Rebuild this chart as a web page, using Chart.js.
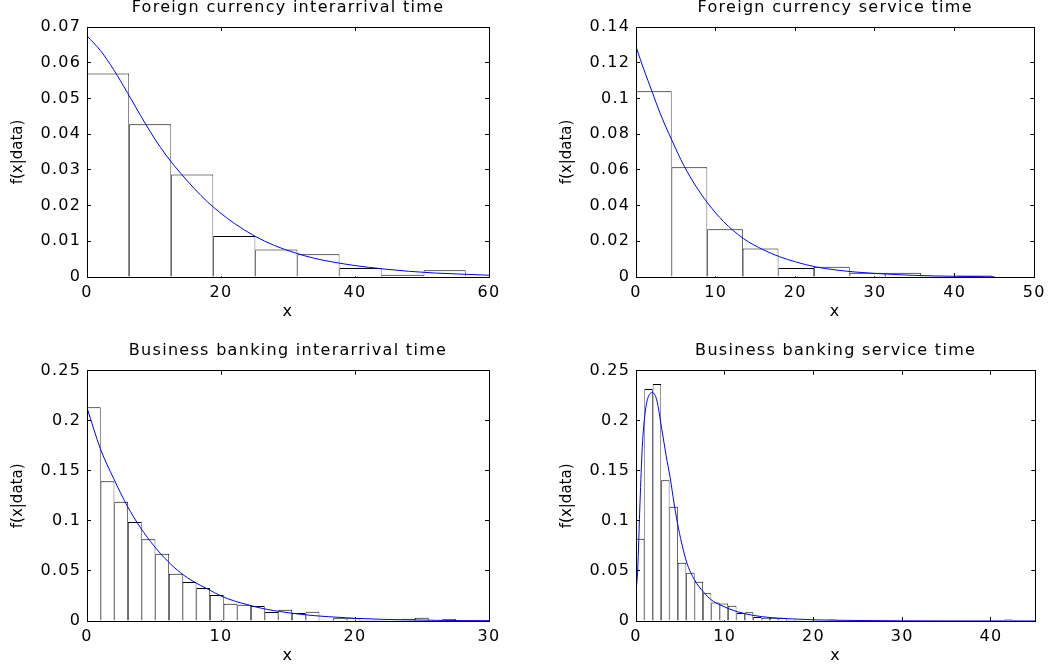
<!DOCTYPE html>
<html>
<head>
<meta charset="utf-8">
<title>Interarrival and service time fits</title>
<script src="https://cdn.jsdelivr.net/npm/chart.js@4.4.1/dist/chart.umd.min.js"></script>
<style>
  html, body { margin: 0; padding: 0; background: #fff; }
  #wrap { position: relative; width: 1056px; height: 672px; }
  #wrap canvas { position: absolute; }
</style>
</head>
<body>
<div id="wrap">
  <canvas id="fcArrival" width="528" height="336" style="left:0;top:0"></canvas>
  <canvas id="fcService" width="528" height="336" style="left:528px;top:0"></canvas>
  <canvas id="bbArrival" width="528" height="336" style="left:0;top:336px"></canvas>
  <canvas id="bbService" width="528" height="336" style="left:528px;top:336px"></canvas>
</div>
<script>
'use strict';

// Foreign currency interarrival time
const fcArrBins = [3.14, 9.42, 15.70, 21.98, 28.26, 34.54, 40.82, 47.10, 53.38];
const fcArrHist = [0.0570, 0.0428, 0.0287, 0.0115, 0.0077, 0.0064, 0.0025, 0.0006, 0.0019];
const fcArrFitX = [0, 2, 4, 6, 8, 10, 12, 14, 16, 18, 20, 22, 25, 28, 31, 34, 37, 40, 44, 48, 52, 56, 60];
const fcArrFitY = [0.0675, 0.0634, 0.0580, 0.0517, 0.0452, 0.0390, 0.0336, 0.0290, 0.0248, 0.0210, 0.0178,
  0.0150, 0.0115, 0.0088, 0.0068, 0.0052, 0.0041, 0.0032, 0.0023, 0.0016, 0.0011, 0.0008, 0.0005];
const fcArrXMax = 60;
const fcArrXTicks = [0, 20, 40, 60];
const fcArrYTicks = [0, 0.01, 0.02, 0.03, 0.04, 0.05, 0.06, 0.07];

// Foreign currency service time
const fcSrvBins = [2.235, 6.705, 11.175, 15.645, 20.115, 24.585, 29.055, 33.525, 37.995, 42.465];
const fcSrvHist = [0.1040, 0.0615, 0.0267, 0.0159, 0.0050, 0.0058, 0.0024, 0.0024, 0.0004, 0.0009];
const fcSrvFitX = [0, 1, 2, 3, 4.5, 6, 7.5, 9, 11, 13.5, 16, 18, 20, 22.5, 25, 27.5, 30, 32.5, 35, 40, 45];
const fcSrvFitY = [0.129, 0.116, 0.104, 0.092, 0.0766, 0.0625, 0.051, 0.0414, 0.031, 0.0215, 0.0152,
  0.0114, 0.0085, 0.0057, 0.0040, 0.0028, 0.0020, 0.0014, 0.0009, 0.0004, 0.0001];
const fcSrvXMax = 50;
const fcSrvXTicks = [0, 10, 20, 30, 40, 50];
const fcSrvYTicks = [0, 0.02, 0.04, 0.06, 0.08, 0.1, 0.12, 0.14];

// Business banking interarrival time
const bbArrBins = [0.51, 1.53, 2.55, 3.57, 4.59, 5.61, 6.63, 7.65, 8.67, 9.69, 10.71, 11.73, 12.75, 13.77,
  14.79, 15.81, 16.83, 17.85, 18.87, 19.89, 20.91, 21.93, 22.95, 23.97, 24.99, 26.01, 27.03, 28.05, 29.07, 30.09];
const bbArrHist = [0.2134, 0.1395, 0.1192, 0.0989, 0.0816, 0.0672, 0.0473, 0.0389, 0.0330, 0.0260, 0.0173,
  0.0163, 0.0150, 0.0090, 0.0113, 0.0080, 0.0093, 0.0013, 0.0027, 0.0027, 0.0010, 0.0010, 0.0007, 0.0022,
  0.0033, 0.0003, 0.0021, 0, 0.0010, 0.0010];
const bbArrFitX = [0, 1, 2, 3, 4, 5, 6, 7, 8, 9, 10, 11, 12, 13, 14, 16, 18, 20, 22, 24, 26, 28, 30];
const bbArrFitY = [0.213, 0.172, 0.142, 0.115, 0.093, 0.075, 0.060, 0.048, 0.039, 0.032, 0.025, 0.020,
  0.0162, 0.0128, 0.0103, 0.0066, 0.0043, 0.0027, 0.0017, 0.0011, 0.0007, 0.0004, 0.0003];
const bbArrXMax = 30;
const bbArrXTicks = [0, 10, 20, 30];
const bbArrYTicks = [0, 0.05, 0.1, 0.15, 0.2, 0.25];

// Business banking service time
const bbSrvBins = [0.472, 1.415, 2.358, 3.302, 4.245, 5.188, 6.131, 7.075, 8.018, 8.961, 9.905, 10.848,
  11.791, 12.735, 13.678, 14.621, 15.564, 16.508, 17.451, 18.394, 19.338, 20.281, 21.224, 22.168, 23.111,
  24.054, 24.997, 25.941, 26.884, 27.827, 28.771, 29.714, 30.657, 31.601, 32.544, 33.487, 34.430, 35.374,
  36.317, 37.260, 38.204, 39.147, 40.090, 41.034, 41.977];
const bbSrvHist = [0.0822, 0.2318, 0.2368, 0.1405, 0.1142, 0.0583, 0.0483, 0.0393, 0.0276, 0.0186, 0.0176,
  0.0153, 0.0080, 0.0087, 0.0040, 0.0033, 0.0033, 0.0033, 0.0010, 0.0010, 0.0008, 0, 0, 0.0015, 0,
  0, 0, 0, 0, 0, 0, 0, 0, 0, 0, 0, 0, 0, 0, 0, 0, 0, 0, 0, 0.0015];
const bbSrvFitX = [0, 0.19, 0.45, 0.71, 1.02, 1.39, 1.88, 2.33, 2.9, 3.4, 3.85, 4.3, 4.8, 5.7, 6.6, 7.6,
  8.5, 9.5, 11.4, 13.3, 15.2, 17.1, 20, 25, 30, 35, 45];
const bbSrvFitY = [0.029, 0.051, 0.118, 0.174, 0.2075, 0.224, 0.228, 0.221, 0.192, 0.165, 0.143, 0.117,
  0.092, 0.059, 0.041, 0.029, 0.021, 0.016, 0.0093, 0.0055, 0.0034, 0.0023, 0.0012, 0.0005, 0.0002, 0.0001, 0];
const bbSrvXMax = 45;
const bbSrvXTicks = [0, 10, 20, 30, 40];
const bbSrvYTicks = [0, 0.05, 0.1, 0.15, 0.2, 0.25];

const fontFamily = "'DejaVu Sans', sans-serif";

// the old figure uses a wide face, so horizontal text gets a little spacing;
// the rotated y title is drawn after the datasets, without it
const textSpacing = {
  id: 'textSpacing',
  beforeDraw(chart) { chart.ctx.letterSpacing = '1.3px'; },
  afterDatasetsDraw(chart) { chart.ctx.letterSpacing = '0px'; }
};

function toPoints(xs, ys) {
  return xs.map((x, i) => ({x: x, y: ys[i]}));
}

function fixedTicks(values) {
  return function (scale) {
    scale.ticks = values.map(v => ({value: v}));
  };
}

function framingAxis(position, max, ticks, afterFit) {
  return {
    type: 'linear',
    position: position,
    min: 0,
    max: max,
    offset: false,
    afterBuildTicks: fixedTicks(ticks),
    afterFit: afterFit,
    grid: {offset: false, drawOnChartArea: false, color: '#000', tickLength: -4},
    border: {color: '#000', width: 1, z: 1},
    ticks: {display: false}
  };
}

function drawPanel(id, title, box, bins, hist, fitX, fitY, xMax, xTicks, yTicks) {
  const yMax = yTicks[yTicks.length - 1];
  const tickFont = {family: fontFamily, size: 16, lineHeight: 1};

  return new Chart(document.getElementById(id), {
    type: 'bar',
    data: {
      datasets: [
        {
          type: 'line',
          data: toPoints(fitX, fitY),
          borderColor: '#0000ff',
          borderWidth: 1,
          pointRadius: 0,
          cubicInterpolationMode: 'monotone',
          order: 0
        },
        {
          type: 'bar',
          data: toPoints(bins, hist),
          backgroundColor: '#ffffff',
          borderColor: '#000000',
          borderWidth: {top: 1, left: 0.75, right: 0.75, bottom: 0},
          barPercentage: 1,
          categoryPercentage: 1,
          inflateAmount: 0,
          clip: 0,
          order: 1
        }
      ]
    },
    options: {
      responsive: false,
      animation: false,
      layout: {padding: {left: 0, right: box.right, top: 0, bottom: 0}},
      plugins: {
        legend: {display: false},
        tooltip: {enabled: false},
        title: {
          display: true,
          text: title,
          color: '#000',
          fullSize: false,
          font: {family: fontFamily, size: 16, weight: 'normal', lineHeight: 1},
          padding: {top: box.titleTop, bottom: box.top - 16 - box.titleTop}
        }
      },
      scales: {
        x: {
          type: 'linear',
          position: 'bottom',
          min: 0,
          max: xMax,
          offset: false,
          afterBuildTicks: fixedTicks(xTicks),
          afterFit: s => { s.height = box.bottom; },
          grid: {offset: false, drawOnChartArea: false, color: '#000', tickLength: -4},
          border: {color: '#000', width: 1, z: 1},
          ticks: {color: '#000', font: tickFont, padding: 11.5, maxRotation: 0, autoSkip: false,
            callback: v => String(v)},
          title: {display: true, text: 'x', color: '#000', font: {family: fontFamily, size: 16},
            padding: {top: 0, bottom: box.bottom - 44.2}}
        },
        x2: framingAxis('top', xMax, xTicks, s => { s.height = 0; }),
        y: {
          type: 'linear',
          position: 'left',
          min: 0,
          max: yMax,
          afterBuildTicks: fixedTicks(yTicks),
          afterFit: s => { s.width = box.left; },
          grid: {drawOnChartArea: false, color: '#000', tickLength: -4, z: 1},
          border: {color: '#000', width: 1, z: 1},
          ticks: {color: '#000', font: tickFont, padding: 9.7, autoSkip: false,
            callback: v => String(v)},
          title: {display: true, text: 'f(x|data)', color: '#000', font: {family: fontFamily, size: 15},
            padding: {top: box.left - 78, bottom: 0}}
        },
        y2: framingAxis('right', yMax, yTicks, s => { s.width = 0; })
      }
    },
    plugins: [textSpacing]
  });
}

const topLeft = {left: 87, right: 39, top: 27, bottom: 59, titleTop: 0.3};
const topRight = {left: 108, right: 20.7, top: 27, bottom: 59, titleTop: 0.3};
const bottomLeft = {left: 87, right: 39, top: 34.7, bottom: 51, titleTop: 7.2};
const bottomRight = {left: 108, right: 20.7, top: 34.7, bottom: 51, titleTop: 7.2};

drawPanel('fcArrival', 'Foreign currency interarrival time', topLeft,
  fcArrBins, fcArrHist, fcArrFitX, fcArrFitY, fcArrXMax, fcArrXTicks, fcArrYTicks);
drawPanel('fcService', 'Foreign currency service time', topRight,
  fcSrvBins, fcSrvHist, fcSrvFitX, fcSrvFitY, fcSrvXMax, fcSrvXTicks, fcSrvYTicks);
drawPanel('bbArrival', 'Business banking interarrival time', bottomLeft,
  bbArrBins, bbArrHist, bbArrFitX, bbArrFitY, bbArrXMax, bbArrXTicks, bbArrYTicks);
drawPanel('bbService', 'Business banking service time', bottomRight,
  bbSrvBins, bbSrvHist, bbSrvFitX, bbSrvFitY, bbSrvXMax, bbSrvXTicks, bbSrvYTicks);
</script>
</body>
</html>
